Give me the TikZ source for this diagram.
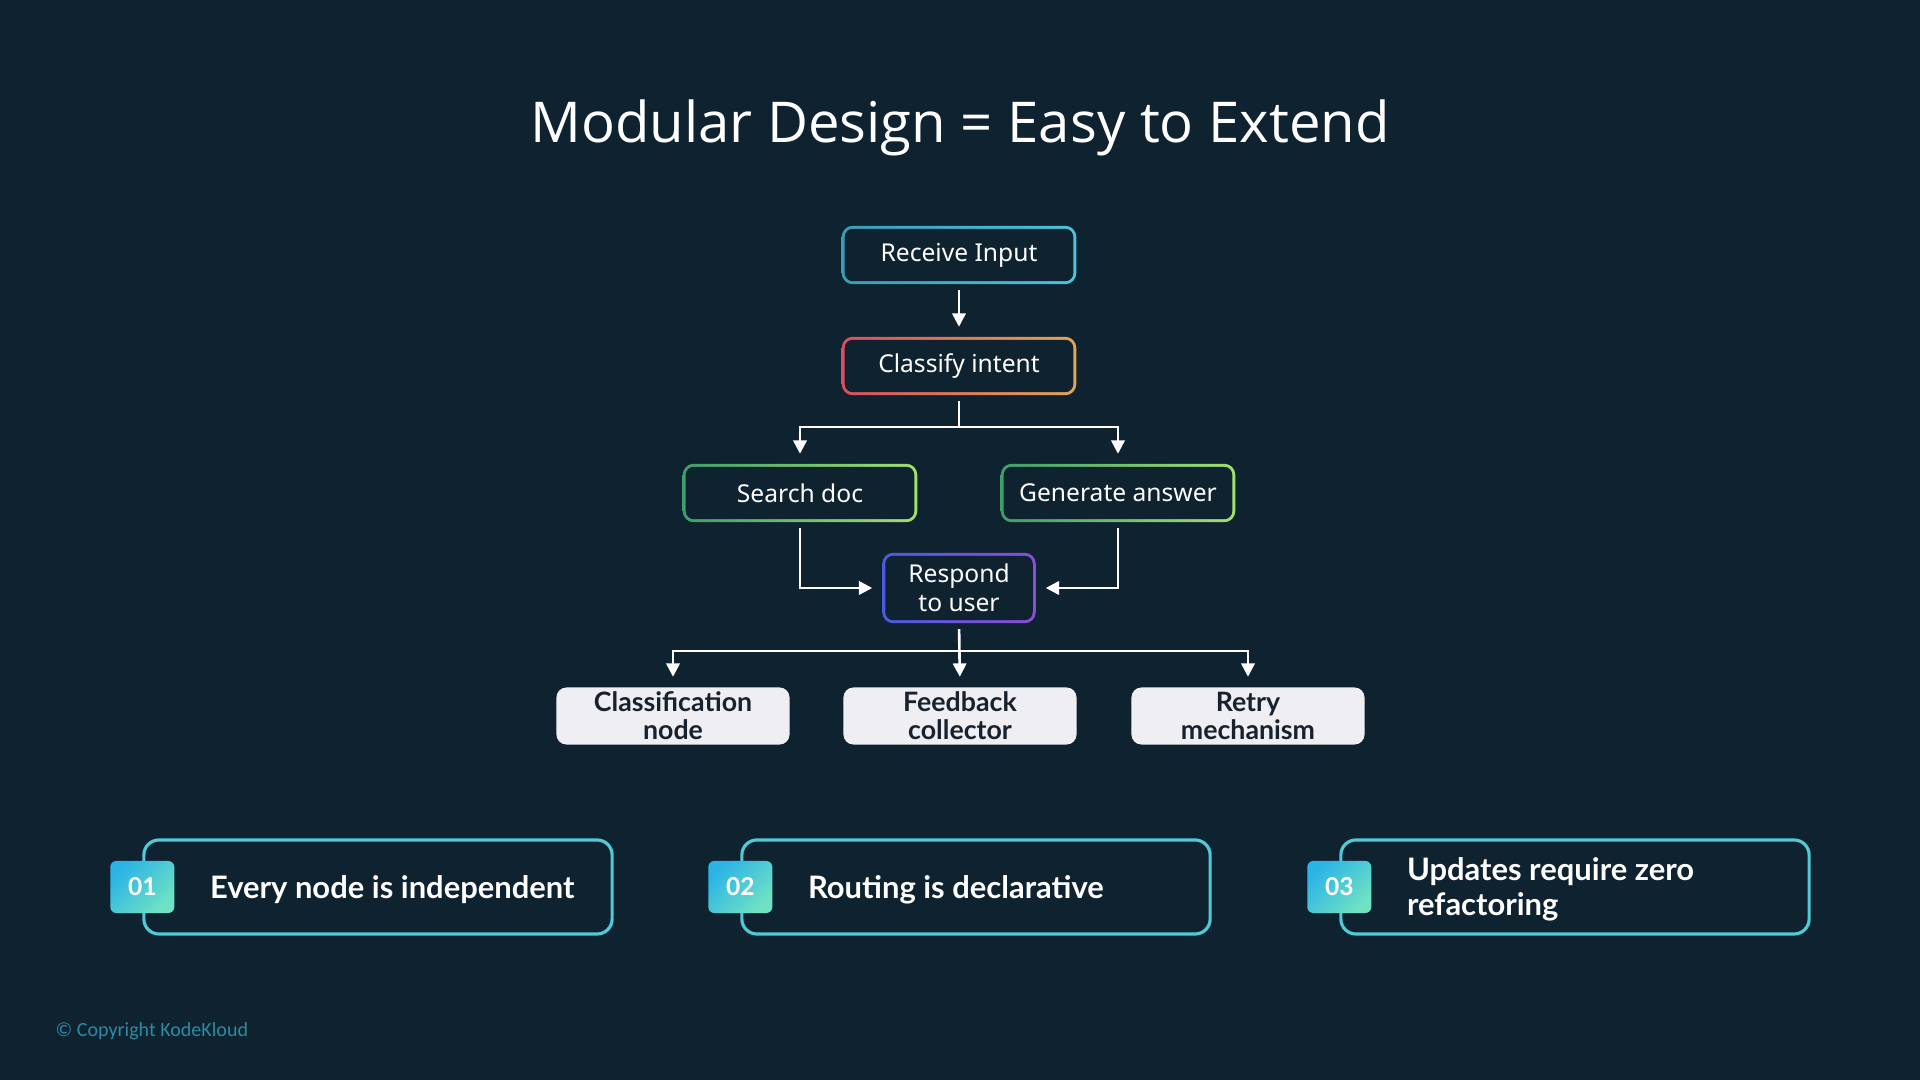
\documentclass[tikz,border=0pt]{standalone}
\usepackage{fontspec}
\setmainfont{Noto Sans}
\newfontfamily\headfont{Open Sans}
\newfontfamily\strongfont{Lato}
\newfontfamily\notefont{Carlito}
\usetikzlibrary{arrows.meta}

\definecolor{bgdark}{HTML}{0F2230}
\definecolor{inA}{HTML}{3A9DB4}
\definecolor{inB}{HTML}{4CC3DD}
\definecolor{clsA}{HTML}{D8505F}
\definecolor{clsB}{HTML}{E3A457}
\definecolor{grnA}{HTML}{3E9F69}
\definecolor{grnB}{HTML}{A3E06C}
\definecolor{resA}{HTML}{4A5BE0}
\definecolor{resB}{HTML}{8A4ED6}
\definecolor{leafgrey}{HTML}{EFEEF2}
\definecolor{leafink}{HTML}{17222E}
\definecolor{cardcyan}{HTML}{4FCAD6}
\definecolor{badgeA}{HTML}{2BB3E6}
\definecolor{badgeB}{HTML}{70E2C4}
\definecolor{copyblue}{HTML}{2C8BA3}

\pgfdeclarelayer{backfill}
\pgfdeclarelayer{rims}
\pgfsetlayers{backfill,rims,main}

% gradient rim round a node: #1 node, #2 left colour, #3 right colour
\newcommand{\gradrim}[3]{%
  \begin{pgfonlayer}{rims}
    \shade[left color=#2, right color=#3, rounded corners=0.11cm]
      (#1.south west) rectangle (#1.north east);
    \fill[bgdark, rounded corners=0.08cm]
      ([shift={(3,-3)}]#1.south west) rectangle ([shift={(-3,3)}]#1.north east);
  \end{pgfonlayer}}

\begin{document}
\begin{tikzpicture}[x=0.01cm, y=-0.01cm, >={Triangle[length=3.8pt,width=3.8pt]},
  flow/.style={minimum width=2.33cm, minimum height=0.57cm, inner sep=1pt, align=center,
    text=white, font=\fontsize{7}{8.3}\selectfont},
  leaf/.style={flow, fill=leafgrey, rounded corners=0.1cm, text=leafink,
    font=\strongfont\bfseries\fontsize{7.6}{8}\selectfont},
  link/.style={->, white, line width=0.75pt, shorten <=0.06cm, shorten >=0.1cm},
  card/.style={draw=cardcyan, line width=0.9pt, fill=bgdark, rounded corners=0.15cm,
    minimum width=4.68cm, minimum height=0.94cm},
  badge/.style={top color=badgeA, bottom color=badgeB, shading angle=45, rounded corners=0.06cm,
    minimum width=0.64cm, minimum height=0.52cm, text=white, font=\strongfont\bfseries\fontsize{7}{8}\selectfont},
  cardtext/.style={anchor=west, align=left, inner xsep=0pt, text=white,
    font=\strongfont\bfseries\fontsize{8.8}{10}\selectfont}]
  \useasboundingbox (0,0) rectangle (1920,1080);
  \begin{pgfonlayer}{backfill}
    \fill[bgdark] (0,0) rectangle (1920,1080);
  \end{pgfonlayer}

  \node[text=white, font=\headfont\fontsize{16}{19}\selectfont] (title) at (960,128) {Modular Design = Easy to Extend};

  % flow
  \node[flow] (recv) at (959,255) {Receive Input};
  \node[flow] (cls) at (959,366) {Classify intent};
  \node[flow] (search) at (800,493) {Search doc};
  \node[flow] (gen) at (1118,493) {Generate answer};
  \node[flow, minimum width=1.52cm, minimum height=0.69cm] (resp) at (959,588) {Respond\\to user};
  \gradrim{recv}{inA}{inB}
  \gradrim{cls}{clsA}{clsB}
  \gradrim{search}{grnA}{grnB}
  \gradrim{gen}{grnA}{grnB}
  \gradrim{resp}{resA}{resB}

  % extensions
  \node[leaf] (leafcls) at (673,716) {Classification\\node};
  \node[leaf] (leaffb) at (960,716) {Feedback\\collector};
  \node[leaf] (leafretry) at (1248,716) {Retry\\mechanism};

  \coordinate (splitA) at (959,427);
  \coordinate (splitB) at (959,651);
  \draw[link] (recv) -- (cls);
  \draw[link] (cls.south) -- (splitA) -| (search.north);
  \draw[link] (cls.south) -- (splitA) -| (gen.north);
  \draw[link] (search.south) |- (resp.west);
  \draw[link] (gen.south) |- (resp.east);
  \draw[link] (resp.south) -- (splitB) -| (leafcls.north);
  \draw[link] (resp.south) -- (leaffb.north);
  \draw[link] (resp.south) -- (splitB) -| (leafretry.north);

  % takeaways
  \node[card] (card1) at (378,887) {};
  \node[card] (card2) at (976,887) {};
  \node[card] (card3) at (1575,887) {};
  \node[badge] (badge1) at (card1.west) {01};
  \node[badge] (badge2) at (card2.west) {02};
  \node[badge] (badge3) at (card3.west) {03};
  \node[cardtext] (note1) at ([xshift=0.67cm, yshift=-0.025cm]card1.west) {Every node is independent};
  \node[cardtext] (note2) at ([xshift=0.67cm, yshift=-0.025cm]card2.west) {Routing is declarative};
  \node[cardtext] (note3) at ([xshift=0.67cm, yshift=-0.025cm]card3.west) {Updates require zero\\refactoring};

  \node[anchor=west, inner xsep=0pt, text=copyblue, font=\notefont\fontsize{5.7}{6}\selectfont] (copy) at (55,1031) {© Copyright KodeKloud};
\end{tikzpicture}
\end{document}
